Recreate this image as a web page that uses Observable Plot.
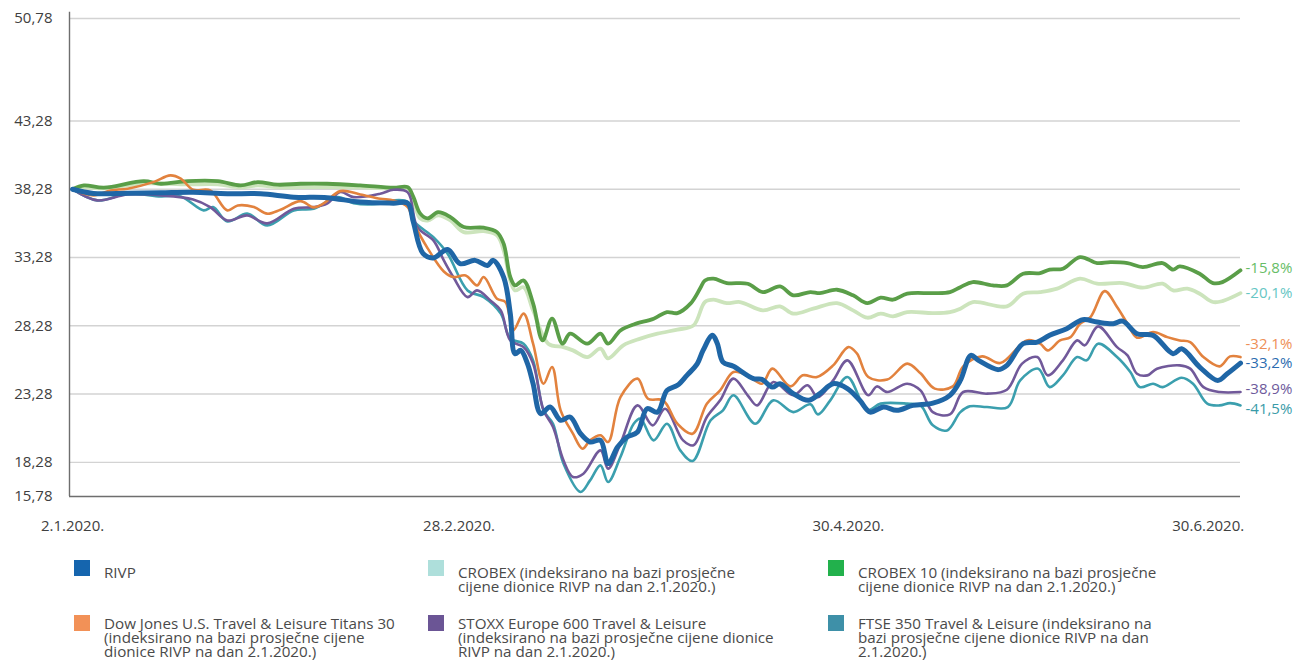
<!DOCTYPE html>
<html>
<head>
<meta charset="utf-8">
<script src="https://cdn.jsdelivr.net/npm/d3@7"></script>
<script src="https://cdn.jsdelivr.net/npm/@observablehq/plot@0.6"></script>
<style>
  html, body { margin: 0; padding: 0; background: #fff; }
  body { width: 1298px; height: 662px; overflow: hidden; position: relative; font-family: "Open Sans", sans-serif; }
  #chart { position: absolute; left: 0; top: 0; }
  .leg { position: absolute; font-size: 15.2px; line-height: 14px; color: #4a4a4a; white-space: nowrap; }
  .sw { position: absolute; width: 16px; height: 16px; }
</style>
</head>
<body>
<div id="chart"></div>
<div id="legend"></div>
<script>
// ---- data: [trading-day index since 2.1.2020, value] ----
const rivp = [[0,38.28],[2.2,37.97],[5.8,37.99],[9.3,38.02],[12.7,38.05],[16.3,37.95],[19.8,37.95],[23.3,37.70],[26.8,37.66],[30.3,37.34],[33.8,37.26],[35.3,37.26],[35.9,35.85],[36.9,33.58],[38.0,33.25],[39.5,33.87],[40.8,32.83],[42.4,33.07],[43.7,32.70],[44.3,33.07],[45.4,31.85],[46.1,29.17],[46.6,26.24],[47.2,26.48],[47.9,25.53],[48.5,24.04],[49.3,21.85],[50.3,22.33],[51.4,21.36],[52.4,21.60],[53.5,20.38],[54.5,19.77],[55.6,19.89],[56.4,18.19],[57.4,19.40],[58.4,20.13],[59.5,20.50],[60.5,22.21],[61.6,21.96],[62.6,23.55],[63.7,23.92],[64.7,24.65],[65.8,25.51],[66.4,26.48],[67.4,27.58],[67.9,26.99],[68.5,25.62],[69.6,25.31],[71.7,24.41],[72.6,24.36],[73.7,23.79],[74.5,24.04],[75.9,23.31],[77.5,22.82],[78.7,23.31],[80.1,24.04],[81.6,23.68],[82.9,22.82],[84.0,21.96],[85.4,22.33],[86.8,22.09],[88.5,22.45],[90.6,22.62],[92.4,23.19],[93.5,24.28],[94.6,26.11],[95.4,25.75],[97.5,25.07],[98.4,25.38],[100.1,26.97],[101.6,27.09],[102.9,27.58],[104.7,28.07],[106.4,28.73],[107.9,28.55],[109.6,28.43],[110.6,28.62],[112.1,27.70],[113.8,27.58],[115.9,26.24],[116.8,26.60],[118.7,25.26],[120.6,24.28],[121.6,24.77],[123,25.55]];

const crobex = [[0,38.28],[1.2,38.41],[3.3,38.34],[7.5,38.70],[12.1,38.63],[15.3,38.63],[17.7,38.41],[19.5,38.56],[21.6,38.43],[24.0,38.43],[26.8,38.43],[30.3,38.41],[33.8,38.32],[35.3,38.32],[35.9,37.46],[36.6,36.14],[37.4,35.99],[38.5,36.36],[39.8,35.99],[41.2,35.14],[43.3,35.21],[44.7,34.90],[45.4,33.80],[46.1,31.60],[46.6,30.87],[47.5,31.11],[48.5,29.41],[50.1,26.97],[51.7,26.72],[52.7,26.48],[54.2,25.99],[55.6,26.60],[56.4,25.89],[58.0,26.85],[59.8,27.34],[61.6,27.70],[63.7,28.00],[65.4,28.31],[66.6,30.02],[67.5,30.19],[68.9,29.94],[70.3,30.02],[72.7,29.41],[74.5,29.70],[75.9,29.17],[78.0,29.53],[80.5,29.94],[82.2,29.41],[83.7,28.87],[85.1,29.17],[86.4,28.97],[87.9,29.28],[90.6,29.21],[92.4,29.28],[93.5,29.53],[94.8,30.02],[98.4,29.70],[100.1,30.63],[101.9,30.75],[103.7,31.00],[106.1,31.73],[107.9,31.36],[110.6,31.41],[112.7,31.07],[114.8,31.36],[115.9,30.87],[117.4,31.00],[118.7,30.63],[120.1,30.02],[121.1,30.09],[123,30.67]];

const crobex10 = [[0,38.28],[1.2,38.56],[3.3,38.39],[7.5,38.87],[9.3,38.68],[12.1,38.87],[15.3,38.87],[17.7,38.56],[19.5,38.80],[21.6,38.61],[24.0,38.68],[26.8,38.68],[30.3,38.56],[33.8,38.39],[35.3,38.43],[35.9,37.70],[36.6,36.51],[37.4,36.14],[38.5,36.60],[39.8,36.24],[41.2,35.51],[43.3,35.46],[44.7,35.14],[45.4,34.29],[46.1,31.85],[46.6,31.24],[47.5,31.60],[48.5,29.92],[49.5,27.21],[50.5,28.80],[51.6,26.97],[52.4,27.70],[54.2,26.97],[55.6,27.70],[56.4,26.97],[57.7,27.94],[59.1,28.38],[61.2,28.80],[62.6,29.28],[63.7,29.21],[65.1,29.92],[66.1,31.02],[66.6,31.60],[67.5,31.73],[68.9,31.41],[71.1,31.36],[72.7,30.75],[74.5,31.16],[75.9,30.51],[77.7,30.75],[78.7,30.67],[80.5,30.92],[82.2,30.51],[83.7,29.94],[85.1,30.34],[86.4,30.19],[87.9,30.63],[90.6,30.67],[92.4,30.75],[93.5,31.11],[94.8,31.48],[96.9,31.24],[98.4,31.24],[100.1,32.09],[101.9,32.14],[102.9,32.39],[104.3,32.46],[106.1,33.31],[107.9,32.87],[109.3,32.94],[111.1,32.87],[112.7,32.58],[114.8,32.87],[115.9,32.39],[116.6,32.63],[118.7,32.09],[120.1,31.41],[121.1,31.48],[123,32.34]];

const dowJones = [[0,38.28],[2.2,37.83],[4.0,38.19],[5.8,38.32],[8.5,38.80],[10.3,39.29],[11.4,39.05],[12.7,38.24],[14.5,38.19],[16.3,36.73],[17.4,37.09],[19.1,36.97],[20.5,36.49],[21.9,36.78],[24.0,37.41],[25.4,36.95],[26.4,37.22],[28.2,38.14],[30.3,37.90],[32.4,37.58],[33.8,37.46],[35.3,36.97],[35.9,35.85],[37.4,33.95],[39.1,32.26],[40.1,31.85],[41.4,31.97],[42.6,31.24],[43.3,31.85],[44.7,30.26],[45.6,30.02],[46.4,27.94],[47.5,29.17],[48.5,26.97],[49.6,24.04],[50.5,25.26],[51.4,22.09],[52.7,20.38],[53.7,19.28],[54.5,19.89],[55.6,20.26],[56.4,19.77],[57.7,23.06],[59.5,24.41],[60.6,22.94],[62.2,22.82],[63.7,21.11],[65.3,20.38],[66.8,22.58],[68.2,23.55],[69.6,24.89],[71.1,24.65],[72.6,24.04],[73.7,25.14],[75.6,23.84],[76.9,24.65],[78.4,24.53],[80.1,25.38],[81.7,26.72],[82.6,26.26],[83.8,24.53],[85.8,24.34],[87.9,25.51],[89.3,24.80],[90.8,23.68],[92.7,23.84],[93.8,25.31],[95.8,26.04],[97.7,25.55],[100.5,27.21],[101.9,26.97],[102.7,26.48],[104.0,27.21],[105.1,27.45],[106.1,28.43],[107.2,28.92],[108.7,30.82],[110.0,29.65],[111.1,28.43],[112.1,27.41],[113.8,27.82],[115.3,27.45],[116.6,27.21],[117.7,27.09],[119.1,25.99],[120.8,25.31],[121.9,26.04],[123,25.99]];

const stoxx = [[0,38.28],[2.6,37.46],[5.8,37.90],[9.3,37.83],[12.7,37.53],[14.5,36.97],[16.3,35.99],[18.4,36.36],[20.5,35.78],[23.3,36.85],[25.4,36.97],[26.8,37.22],[28.2,38.07],[29.6,37.70],[32.4,37.95],[33.8,38.24],[35.3,38.05],[36.3,35.51],[38.0,34.53],[39.1,33.07],[40.1,31.85],[41.6,30.38],[42.6,30.87],[44.0,30.14],[45.1,29.41],[46.1,27.21],[47.5,26.72],[48.5,25.51],[49.6,22.09],[50.6,20.87],[51.7,18.43],[52.7,17.21],[53.8,17.45],[55.6,19.16],[56.4,17.82],[57.7,19.65],[59.5,22.45],[61.1,20.99],[62.4,22.21],[64.3,19.89],[65.4,19.53],[66.8,21.60],[68.2,22.82],[69.6,24.41],[71.1,23.19],[72.1,22.45],[73.8,24.16],[75.9,23.19],[77.4,23.92],[78.5,23.06],[80.1,24.28],[81.6,25.75],[83.8,23.19],[84.7,23.84],[85.8,23.43],[87.9,24.04],[89.3,23.55],[90.6,21.96],[92.4,21.79],[93.8,23.43],[96.3,23.31],[98.4,23.60],[100.0,25.51],[101.6,25.99],[102.7,24.65],[104.3,25.75],[105.8,27.21],[106.6,26.85],[108.0,28.24],[110.0,26.72],[111.1,26.11],[112.1,24.77],[113.2,24.65],[114.2,25.14],[116.6,25.38],[117.7,25.14],[119.1,23.79],[120.8,23.43],[123,23.43]];

const ftse = [[0,38.28],[2.6,37.46],[5.8,37.95],[9.3,37.75],[11.4,37.75],[13.8,36.73],[14.8,36.97],[16.3,35.92],[18.4,36.49],[20.5,35.63],[23.3,36.73],[25.4,36.85],[27.9,37.70],[29.6,37.26],[32.4,37.22],[33.8,37.46],[35.3,37.34],[35.9,35.99],[38.0,34.77],[39.5,33.56],[41.6,30.87],[43.3,30.38],[45.1,29.17],[46.1,27.34],[47.5,26.97],[48.5,25.75],[49.6,22.09],[50.6,21.11],[51.7,18.19],[53.5,16.11],[54.5,16.96],[55.6,18.06],[56.4,16.84],[57.7,18.67],[59.1,21.11],[59.8,21.48],[61.2,19.89],[62.6,21.11],[64.0,19.16],[65.3,18.38],[67.2,21.36],[68.5,22.09],[69.6,23.19],[71.9,21.11],[73.8,22.82],[75.9,21.96],[77.7,22.53],[78.5,21.79],[79.8,22.82],[81.6,24.53],[83.7,22.09],[85.1,22.58],[87.9,22.58],[89.3,22.45],[90.6,20.99],[92.1,20.62],[93.5,21.96],[94.5,22.38],[96.3,22.33],[98.5,22.33],[99.8,24.28],[101.7,25.14],[102.9,23.79],[104.3,24.65],[105.8,25.99],[106.8,25.75],[108.0,26.97],[110.0,25.99],[111.4,24.89],[112.4,23.79],[113.8,24.04],[114.8,23.79],[116.8,24.48],[118.0,24.04],[119.5,22.58],[120.8,22.45],[121.9,22.62],[123,22.45]];

const yTicks = [15.78, 18.28, 23.28, 28.28, 33.28, 38.28, 43.28, 50.78];
const xTickDays = [0, 40.7, 81.7, 119.6];
const xTickLabels = ["2.1.2020.", "28.2.2020.", "30.4.2020.", "30.6.2020."];
const endLabels = ["-15,8%", "-20,1%", "-32,1%", "-33,2%", "-38,9%", "-41,5%"];
const legendNames = [
  "RIVP",
  "CROBEX (indeksirano na bazi prosječne<br>cijene dionice RIVP na dan 2.1.2020.)",
  "CROBEX 10 (indeksirano na bazi prosječne<br>cijene dionice RIVP na dan 2.1.2020.)",
  "Dow Jones U.S. Travel &amp; Leisure Titans 30<br>(indeksirano na bazi prosječne cijene<br>dionice RIVP na dan 2.1.2020.)",
  "STOXX Europe 600 Travel &amp; Leisure<br>(indeksirano na bazi prosječne cijene dionice<br>RIVP na dan 2.1.2020.)",
  "FTSE 350 Travel &amp; Leisure (indeksirano na<br>bazi prosječne cijene dionice RIVP na dan<br>2.1.2020.)"
];
const legendColors = ["#1565ae", "#aedfdb", "#22b14c", "#f29157", "#6b5595", "#3e90a8"];

// ---- styling ----
const xMin = -0.32, xMax = 123;
const yMin = 15.78, yMax = 50.78;
const lineSeries = [
  {data: crobex,   stroke: "#cce4bc", w: 3.8, label: endLabels[1], lc: "#66c6c4", dy: 0},
  {data: crobex10, stroke: "#5a9e48", w: 3.8, label: endLabels[0], lc: "#67bd66", dy: -2.5},
  {data: ftse,     stroke: "#3b9fae", w: 2.6, label: endLabels[5], lc: "#3a9ba8", dy: 4},
  {data: stoxx,    stroke: "#71599a", w: 2.6, label: endLabels[4], lc: "#6e5a9c", dy: -2.5},
  {data: dowJones, stroke: "#e2823e", w: 2.6, label: endLabels[2], lc: "#ee8f57", dy: -12.5},
  {data: rivp,     stroke: "#1f66a6", w: 5,   label: endLabels[3], lc: "#2b6cb0", dy: 0}
];

const fmt = d => d.toFixed(2).replace(".", ",");

const marks = [
  Plot.ruleY(yTicks.filter(d => d > yMin), {stroke: "#d3d3d3", strokeWidth: 1.4}),
  Plot.axisY({ticks: yTicks, tickSize: 0, tickPadding: 17, tickFormat: fmt, fill: "#404040", fontSize: 15}),
  Plot.axisX({ticks: xTickDays, tickSize: 0, tickPadding: 24, tickFormat: d => xTickLabels[xTickDays.indexOf(d)], fill: "#404040", fontSize: 15}),
  Plot.ruleX([xMin], {y1: yMin, y2: yMax + 0.45, stroke: "#6e6e6e", strokeWidth: 1.4}),
  Plot.ruleY([yMin], {stroke: "#6e6e6e", strokeWidth: 1.4})
];
for (const s of lineSeries) {
  marks.push(Plot.line(s.data, {x: d => d[0], y: d => d[1], stroke: s.stroke, strokeWidth: s.w, curve: "catmull-rom", strokeLinejoin: "round", strokeLinecap: "round"}));
}
for (const s of lineSeries) {
  const last = s.data[s.data.length - 1];
  marks.push(Plot.text([last], {x: d => d[0], y: d => d[1], text: () => s.label, fill: s.lc, textAnchor: "start", dx: 5, dy: s.dy, fontSize: 15}));
}

const chart = Plot.plot({
  width: 1298,
  height: 536,
  marginLeft: 69,
  marginRight: 58,
  marginTop: 18,
  marginBottom: 40,
  x: {domain: [xMin, xMax]},
  y: {domain: [yMin, yMax]},
  style: {fontFamily: "'Open Sans', sans-serif", fontSize: "15px", background: "#fff", overflow: "visible"},
  marks
});
document.getElementById("chart").appendChild(chart);

// ---- legend ----
const legCols = [74, 428, 828];
const legRows = [560, 615];
const leg = document.getElementById("legend");
legendNames.forEach((name, i) => {
  const col = i % 3, row = Math.floor(i / 3);
  const sw = document.createElement("div");
  sw.className = "sw";
  sw.style.left = legCols[col] + "px";
  sw.style.top = legRows[row] + "px";
  sw.style.background = legendColors[i];
  leg.appendChild(sw);
  const t = document.createElement("div");
  t.className = "leg";
  t.style.left = (legCols[col] + 30) + "px";
  t.style.top = (legRows[row] + (row === 0 ? 5 : 1)) + "px";
  t.innerHTML = name;
  leg.appendChild(t);
});
</script>
</body>
</html>
